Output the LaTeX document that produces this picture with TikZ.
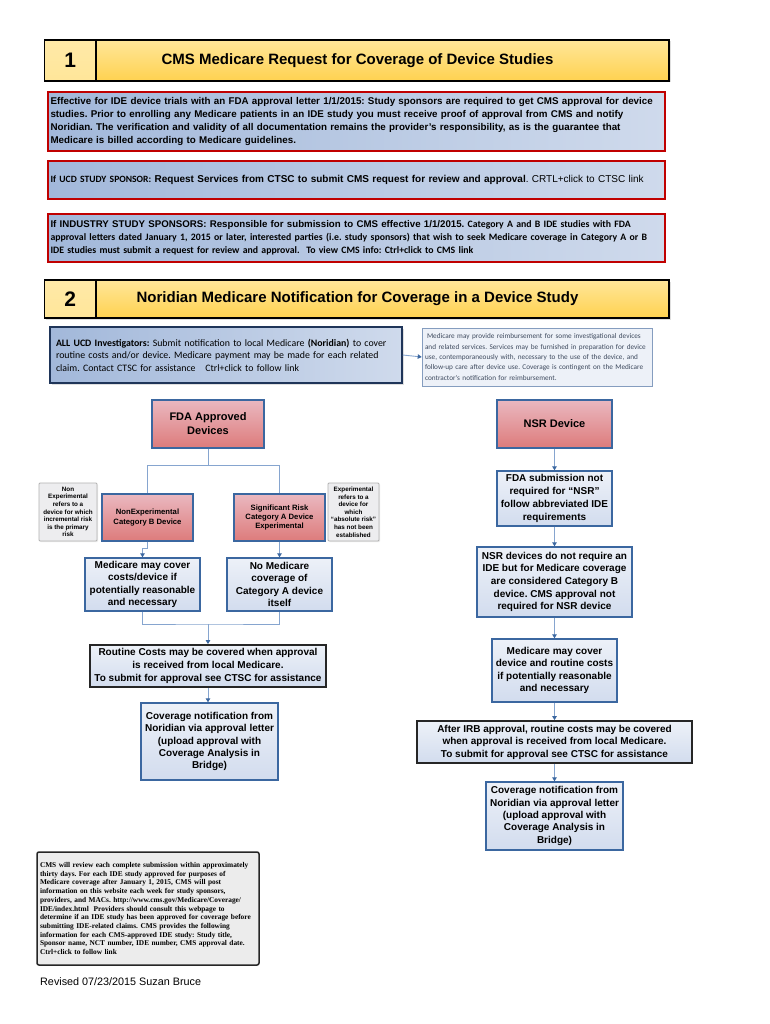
\documentclass[tikz,border=0pt]{standalone}
\usepackage{fontspec}
\setmainfont{Liberation Sans}
\newfontfamily\calibri{Carlito}
\newfontfamily\timesrm{Liberation Serif}
\frenchspacing
\usetikzlibrary{arrows.meta,shadows}
\definecolor{goldA}{HTML}{FFE699}
\definecolor{goldB}{HTML}{FFD250}
\definecolor{goldC}{HTML}{FFE9A8}
\definecolor{bluelt}{HTML}{CFDAEC}
\definecolor{bluedk}{HTML}{A2B8DA}
\definecolor{redline}{HTML}{C00000}
\definecolor{pinkA}{HTML}{EAB8C0}
\definecolor{pinkB}{HTML}{DD7B7B}
\definecolor{flowA}{HTML}{EDF1F8}
\definecolor{flowB}{HTML}{D2DCEE}
\definecolor{flowline}{HTML}{3B67A0}
\definecolor{wire}{HTML}{86A5CF}
\definecolor{notegray}{HTML}{EDEDEF}
\definecolor{navy}{HTML}{1F3559}
\definecolor{infotext}{HTML}{3E4A5E}
\begin{document}
\begin{tikzpicture}[x=1pt,y=-1pt,>={Triangle[length=4pt,width=4.5pt,color=flowline]},
    sz/.style 2 args={minimum width=#1pt,minimum height=#2pt},
    hdr/.style={draw=black,line width=1.5pt,top color=goldA,bottom color=goldB,inner sep=0pt,
      drop shadow={opacity=0.25,shadow xshift=1.5pt,shadow yshift=-1.5pt}},
    numcell/.style={hdr,top color=goldC,bottom color=goldA,font=\bfseries\fontsize{21}{21}\selectfont},
    hdrtext/.style={font=\bfseries\fontsize{15}{16}\selectfont,inner sep=0pt},
    redbox/.style={draw=redline,line width=1.6pt,left color=bluedk,right color=bluelt,
      inner xsep=2.5pt,inner ysep=2pt,text width=612pt,align=left},
    ucdbox/.style={draw=navy,line width=1.5pt,left color=bluedk,right color=bluelt,
      inner xsep=6pt,text width=340pt,align=left,
      drop shadow={opacity=0.25,shadow xshift=1.5pt,shadow yshift=-1.5pt},
      font=\calibri\fontsize{9.85}{12.6}\selectfont},
    infobox/.style={draw=wire!80!gray,line width=0.6pt,fill=flowA,inner xsep=3pt,
      text width=224pt,align=left,text=infotext,font=\calibri\fontsize{7.25}{10.4}\selectfont},
    pinkbox/.style={draw=flowline,line width=1.4pt,top color=pinkA,bottom color=pinkB,
      align=center,inner sep=1pt,drop shadow={opacity=0.2,shadow xshift=1pt,shadow yshift=-1pt}},
    flowbox/.style={draw=flowline,line width=1.4pt,top color=flowA,bottom color=flowB,
      align=center,inner sep=1pt,font=\bfseries\fontsize{10}{12.5}\selectfont,
      drop shadow={opacity=0.2,shadow xshift=1pt,shadow yshift=-1pt}},
    keybox/.style={flowbox,draw=black!85,line width=1.8pt},
    notebox/.style={draw=gray!60,line width=0.8pt,fill=notegray,rounded corners=1pt,
      align=center,inner sep=1pt,font=\bfseries\fontsize{6.3}{7.6}\selectfont,
      drop shadow={opacity=0.15,shadow xshift=1pt,shadow yshift=-1pt}},
    cmsbox/.style={draw=black!85,line width=1.5pt,fill=gray!15,rounded corners=2pt,
      text width=216pt,align=left,inner xsep=3pt,inner ysep=3pt,
      font=\timesrm\bfseries\fontsize{7.35}{8.7}\selectfont},
    wire/.style={draw=wire,line width=0.9pt},
    arr/.style={wire,->}]
\useasboundingbox (0,0) rectangle (770,1024);
\fill[white] (0,0) rectangle (770,1024);

% section 1
\node[numcell,sz={51.5}{41}] (numA) at (70.25,60.5) {1};
\node[hdr,sz={573}{41}] (cellA) at (382.5,60.5) {};
\node[hdrtext] (titleA) at (357.5,61) {CMS Medicare Request for Coverage of Device Studies};

\node[redbox,font=\bfseries\fontsize{9.8}{12.9}\selectfont,sz={617}{59}] (effective) at (356.5,121.5)
  {Effective for IDE device trials with an FDA approval letter 1/1/2015: Study sponsors are required to get CMS approval for device\\
   studies. Prior to enrolling any Medicare patients in an IDE study you must receive proof of approval from CMS and notify\\
   Noridian. The verification and validity of all documentation remains the provider's responsibility, as is the guarantee that\\
   Medicare is billed according to Medicare guidelines.};

\node[redbox,font=\fontsize{10}{12}\selectfont,sz={617}{38}] (ucdsponsor) at (356.5,180)
  {{\calibri\bfseries\fontsize{9.6}{12}\selectfont If UCD STUDY SPONSOR:} \textbf{Request Services from CTSC to submit CMS request for review and approval}. CRTL+click to CTSC link};

\node[redbox,font=\calibri\bfseries\fontsize{9.8}{13.2}\selectfont,sz={617}{48}] (industry) at (356.5,238)
  {{\fontspec{Liberation Sans}\fontsize{9.7}{13.2}\selectfont If INDUSTRY STUDY SPONSORS: Responsible for submission to CMS effective 1/1/2015.} Category A and B IDE studies with FDA\\
   approval letters dated January 1, 2015 or later, interested parties (i.e. study sponsors) that wish to seek Medicare coverage in Category A or B\\
   IDE studies must submit a request for review and approval.\ \ To view CMS info: Ctrl+click to CMS link};

% section 2
\node[numcell,sz={51.5}{38}] (numB) at (70.25,299) {2};
\node[hdr,sz={573}{38}] (cellB) at (382.5,299) {};
\node[hdrtext] (titleB) at (357.5,299) {Noridian Medicare Notification for Coverage in a Device Study};

\node[ucdbox,sz={352}{56}] (ucd) at (226,355)
  {\textbf{ALL UCD Investigators:} Submit notification to local Medicare \textbf{(Noridian)} to cover\\
   routine costs and/or device. Medicare payment may be made for each related\\
   claim. Contact CTSC for assistance\quad Ctrl+click to follow link};
\node[infobox,sz={230}{58}] (reimb) at (537,357)
  {\hspace*{2pt}Medicare may provide reimbursement for some investigational devices\\
   and related services. Services may be furnished in preparation for device\\
   use, contemporaneously with, necessary to the use of the device, and\\
   follow-up care after device use. Coverage is contingent on the Medicare\\
   contractor's notification for reimbursement.};
\draw[arr] (ucd.east) -- (reimb.west);

% left branch
\node[pinkbox,sz={112}{48},font=\bfseries\fontsize{11}{14}\selectfont] (fda) at (208,424) {FDA Approved\\Devices};
\node[pinkbox,sz={91}{47},font=\bfseries\fontsize{7.7}{10}\selectfont] (catB) at (147.5,517.5) {NonExperimental\\Category B Device};
\node[pinkbox,sz={91}{47},font=\bfseries\fontsize{7.7}{9.3}\selectfont] (catA) at (279.5,517.5) {Significant Risk\\Category A Device\\Experimental};
\node[notebox,sz={58}{58}] (noteB) at (68,512) {Non\\Experimental\\refers to a\\device for which\\incremental risk\\is the primary\\risk};
\node[notebox,sz={51}{58}] (noteA) at (353.5,512) {Experimental\\refers to a\\device for\\which\\``absolute risk''\\has not been\\established};

\node[flowbox,sz={115}{53}] (coverB) at (142.5,584.5) {Medicare may cover\\costs/device if\\potentially reasonable\\and necessary};
\node[flowbox,sz={105}{53}] (nocover) at (279.5,584.5) {No Medicare\\coverage of\\Category A device\\itself};
\node[keybox,sz={236}{42},font=\bfseries\fontsize{10}{13}\selectfont] (routine) at (208,666) {Routine Costs may be covered when approval\\is received from local Medicare.\\To submit for approval see CTSC for assistance};
\node[flowbox,sz={137}{77},font=\bfseries\fontsize{10}{12.3}\selectfont] (letterL) at (209.5,741.5) {Coverage notification from\\Noridian via approval letter\\(upload approval with\\Coverage Analysis in\\Bridge)};

\coordinate (split) at (208,465);
\coordinate (merge) at (208,624);
\draw[wire] (fda.south) -- (split) -| (catB.north);
\draw[wire] (split) -| (catA.north);
\draw[arr] (catB.south) -- ++(0,7) -| (coverB.north);
\draw[arr] (catA.south) -- (nocover.north);
\draw[wire] (coverB.south) |- (merge) -| (nocover.south);
\draw[arr] (merge) -- (routine.north);
\draw[arr] (routine.south) -- (routine.south |- letterL.north);

% right branch
\node[pinkbox,sz={115}{48},font=\bfseries\fontsize{11}{14}\selectfont] (nsr) at (554.5,424) {NSR Device};
\node[flowbox,sz={115}{55},font=\bfseries\fontsize{10}{13}\selectfont] (fdasub) at (554.5,498.5) {FDA submission not\\required for “NSR”\\follow abbreviated IDE\\requirements};
\node[flowbox,sz={155}{70},font=\bfseries\fontsize{10}{12.6}\selectfont] (nsrdev) at (554.5,582) {NSR devices do not require an\\IDE but for Medicare coverage\\are considered Category B\\device. CMS approval not\\required for NSR device};
\node[flowbox,sz={125}{63}] (coverR) at (554.5,670.5) {Medicare may cover\\device and routine costs\\if potentially reasonable\\and necessary};
\node[keybox,sz={275}{42}] (irb) at (554.5,742) {After IRB approval, routine costs may be covered\\when approval is received from local Medicare.\\To submit for approval see CTSC for assistance};
\node[flowbox,sz={137}{68},font=\bfseries\fontsize{10}{12.3}\selectfont] (letterR) at (554.5,816) {Coverage notification from\\Noridian via approval letter\\(upload approval with\\Coverage Analysis in\\Bridge)};

\draw[arr] (nsr) -- (fdasub);
\draw[arr] (fdasub) -- (nsrdev);
\draw[arr] (nsrdev) -- (coverR);
\draw[arr] (coverR) -- (irb);
\draw[arr] (irb) -- (letterR);

% footer
\node[cmsbox,sz={222}{113}] (cms) at (148,908.5)
  {CMS will review each complete submission within approximately\\
   thirty days. For each IDE study approved for purposes of\\
   Medicare coverage after January 1, 2015, CMS will post\\
   information on this website each week for study sponsors,\\
   providers, and MACs. http://www.cms.gov/Medicare/Coverage/\\
   IDE/index.html\ \ Providers should consult this webpage to\\
   determine if an IDE study has been approved for coverage before\\
   submitting IDE-related claims. CMS provides the following\\
   information for each CMS-approved IDE study: Study title,\\
   Sponsor name, NCT number, IDE number, CMS approval date.\\
   Ctrl+click to follow link};
\node[anchor=west,inner sep=0pt,font=\fontsize{10.8}{12}\selectfont] (revised) at (40,982) {Revised 07/23/2015 Suzan Bruce};
\end{tikzpicture}
\end{document}
